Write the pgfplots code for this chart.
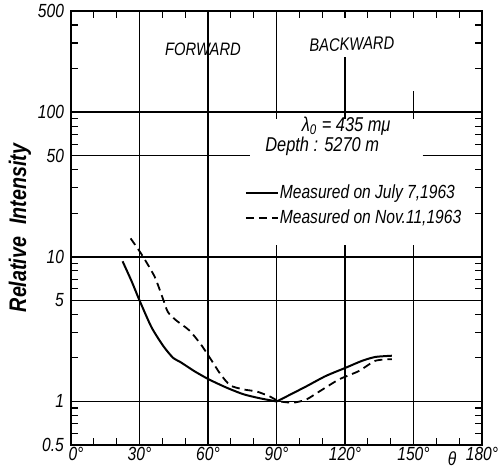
\documentclass[border=0pt]{standalone}
\usepackage{fontspec}
\setmainfont{Liberation Sans}[FakeStretch=0.82]
\usepackage{pgfplots}
\pgfplotsset{compat=1.18}

\begin{document}
\begin{tikzpicture}
\begin{axis}[
    name=ax,
    scale only axis,
    width=205.5pt, height=217pt,
    ymode=log,
    xmin=0, xmax=180,
    ymin=0.5, ymax=500,
    xtick={0,30,...,180},
    xticklabels={\hspace*{5pt}\textit{0°},\textit{30°},\textit{60°},\textit{90°},\textit{120°},\textit{150°},\textit{180°}},
    minor xtick={10,20,40,50,70,80,100,110,130,140,160,170},
    ytick={0.5,1,5,10,50,100,500},
    yticklabels={\textit{0.5},\textit{1},\textit{5},\textit{10},\textit{50},\textit{100},\textit{500}},
    minor ytick={0.6,0.7,0.8,0.9,2,3,4,6,7,8,9,20,30,40,60,70,80,90,200,300,400},
    tick align=inside,
    major tick length=3.5pt,
    minor tick length=3.5pt,
    tick style={black, line width=0.6pt},
    axis line style={line width=1pt},
    tick label style={font=\fontsize{9.5}{10}\selectfont},
    xticklabel style={yshift=2.5pt},
    ylabel={\bfseries\itshape Relative\enspace Intensity},
    ylabel style={at={([xshift=-25.5pt]axis description cs:0,0.5)}, anchor=center,
                  font=\fontsize{12}{13}\selectfont},
    legend style={at={(axis cs:76,22.6)}, anchor=west, draw=none, fill=none,
                  inner sep=0pt, row sep=3pt,
                  font=\fontsize{9.5}{10}\selectfont\itshape,
                  cells={anchor=west},
                  nodes={inner sep=0.5pt}},
    legend image code/.code={\draw[#1] (0pt,0pt) -- (16pt,0pt);},
    clip=false,
]
% grid lines (hand-drawn chart: some are interrupted by text)
\draw[line width=0.75pt] (axis cs:0,1) -- (axis cs:180,1);
\draw[line width=0.75pt] (axis cs:0,5) -- (axis cs:180,5);
\draw[line width=0.75pt] (axis cs:0,10) -- (axis cs:180,10);
\draw[line width=0.75pt] (axis cs:0,50) -- (axis cs:78.4,50);
\draw[line width=0.75pt] (axis cs:154,50) -- (axis cs:180,50);
\draw[line width=0.75pt] (axis cs:0,100) -- (axis cs:180,100);
\draw[line width=0.75pt] (axis cs:30,0.5) -- (axis cs:30,500);
\draw[line width=0.75pt] (axis cs:60,0.5) -- (axis cs:60,500);
\draw[line width=0.75pt] (axis cs:90,0.5) -- (axis cs:90,12);
\draw[line width=0.75pt] (axis cs:90,90) -- (axis cs:90,500);
\draw[line width=0.75pt] (axis cs:120,0.5) -- (axis cs:120,12);
\draw[line width=0.75pt] (axis cs:120,90) -- (axis cs:120,240);
\draw[line width=0.75pt] (axis cs:150,0.5) -- (axis cs:150,12);
\draw[line width=0.75pt] (axis cs:150,90) -- (axis cs:150,140);

% Measured on July 7, 1963
\addplot[black, line width=1pt, smooth, tension=0.4] coordinates {
    (22.6,9.3) (26.5,6.8) (30,5.0) (35.2,3.27) (40.3,2.43) (44.6,2.01)
    (48.2,1.86) (54,1.62) (60.4,1.42) (68.4,1.24) (75.6,1.12) (82.9,1.05)
    (88.6,1.01) (90,1.0) (94.3,1.08) (103,1.27) (111.6,1.50) (120.3,1.71)
    (127.5,1.91) (133.3,2.03) (140.5,2.07)
};
\addlegendentry{Measured on July 7,1963}

% Measured on Nov. 11, 1963
\addplot[black, line width=0.9pt, dash pattern=on 4pt off 2.5pt, smooth, tension=0.4] coordinates {
    (26.1,13.4) (30.9,10.4) (36.6,7.3) (40.2,5.16) (42.4,4.16) (46,3.64)
    (51.8,3.1) (56.8,2.49) (61.2,1.96) (65.5,1.54) (69.8,1.29) (75.6,1.21)
    (81.4,1.17) (87.2,1.08) (90,1.02) (91.4,1.0) (97.2,0.98) (103,1.03)
    (108.7,1.17) (117.4,1.42) (126,1.62) (133.3,1.91) (140.5,1.96)
};
\addlegendentry{Measured on Nov.11,1963}

\node[font=\fontsize{9}{10}\selectfont\itshape] at (axis cs:57.8,273) {FORWARD};
\node[font=\fontsize{9}{10}\selectfont\itshape, rotate=2] at (axis cs:123,295) {BACKWARD};
\node[font=\fontsize{10}{11}\selectfont\itshape] at (axis cs:120.5,80) {λ\textsubscript{0} = 435 mμ};
\node[font=\fontsize{10}{11}\selectfont\itshape] at (axis cs:110,58) {Depth : 5270 m};
\node[font=\fontsize{9.5}{10}\selectfont\itshape, anchor=center] at (axis cs:166.9,0.5) [yshift=-7pt] {θ};
\end{axis}
\pgfresetboundingbox
\path[use as bounding box] ([shift={(-35.5pt,-11pt)}]ax.south west) rectangle ([shift={(10.5pt,5.5pt)}]ax.north east);
\end{tikzpicture}
\end{document}
